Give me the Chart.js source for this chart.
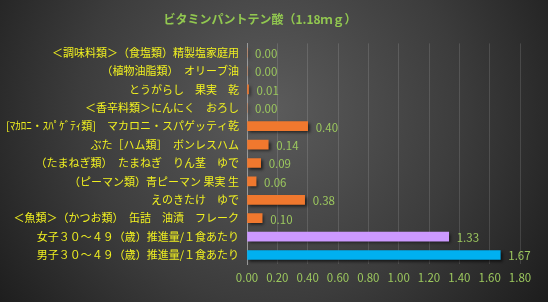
<!DOCTYPE html>
<html>
<head>
<meta charset="utf-8">
<script src="https://cdn.jsdelivr.net/npm/chart.js@4/dist/chart.umd.min.js"></script>
<style>
html,body{margin:0;padding:0;background:#333;}
#wrap{width:548px;height:302px;position:relative;}
</style>
</head>
<body>
<div id="wrap"><canvas id="c" width="548" height="302"></canvas></div>
<script>
const chartTitle = 'ビタミンパントテン酸（1.18ｍｇ）';
const categories = [
  '＜調味料類＞（食塩類）精製塩家庭用',
  '（植物油脂類）　オリーブ油',
  'とうがらし　果実　乾',
  '＜香辛料類＞にんにく　おろし',
  '[ﾏｶﾛﾆ・ｽﾊﾟｹﾞﾃｨ類]　マカロニ・スパゲッティ乾',
  'ぶた［ハム類］　ボンレスハム',
  '（たまねぎ類）　たまねぎ　りん茎　ゆで',
  '（ピーマン類）青ピーマン 果実 生',
  'えのきたけ　ゆで',
  '＜魚類＞（かつお類）　缶詰　油漬　フレーク',
  '女子３０～４９（歳）推進量/１食あたり',
  '男子３０～４９（歳）推進量/１食あたり'
];
const values = [0.00, 0.00, 0.01, 0.00, 0.40, 0.14, 0.09, 0.06, 0.38, 0.10, 1.33, 1.67];
const barColors = ['#F0782E','#F0782E','#F0782E','#F0782E','#F0782E','#F0782E','#F0782E','#F0782E','#F0782E','#F0782E','#CC99FF','#00B0F0'];
const xTicks = [0, 0.2, 0.4, 0.6, 0.8, 1.0, 1.2, 1.4, 1.6, 1.8];

const FONT = "'Noto Sans CJK JP', 'Noto Sans', sans-serif";

const bgPlugin = {
  id: 'bg',
  beforeDraw(chart) {
    const {ctx, width, height} = chart;
    ctx.save();
    const g = ctx.createRadialGradient(270, 110, 10, 270, 110, 340);
    g.addColorStop(0, '#5a5a5a');
    g.addColorStop(0.55, '#3c3c3c');
    g.addColorStop(1, '#1c1c1c');
    ctx.fillStyle = g;
    ctx.fillRect(0, 0, width, height);
    ctx.restore();
  }
};

const shadowPlugin = {
  id: 'shadow',
  beforeDatasetDraw(chart) {
    const ctx = chart.ctx;
    ctx.save();
    ctx.shadowColor = 'rgba(0,0,0,0.6)';
    ctx.shadowBlur = 3;
    ctx.shadowOffsetX = 2;
    ctx.shadowOffsetY = 2;
  },
  afterDatasetDraw(chart) {
    chart.ctx.restore();
  }
};

const labelPlugin = {
  id: 'vlabels',
  afterDatasetsDraw(chart) {
    const ctx = chart.ctx;
    const meta = chart.getDatasetMeta(0);
    ctx.save();
    ctx.font = '11.5px ' + FONT;
    ctx.fillStyle = '#9CC85E';
    ctx.textAlign = 'left';
    ctx.textBaseline = 'middle';
    meta.data.forEach((el, i) => {
      ctx.fillText(values[i].toFixed(2), el.x + 8, el.y + 1);
    });
    ctx.restore();
  }
};

new Chart(document.getElementById('c'), {
  type: 'bar',
  data: {
    labels: categories,
    datasets: [{
      data: values,
      backgroundColor: barColors,
      borderWidth: 0,
      barThickness: 9
    }]
  },
  options: {
    indexAxis: 'y',
    responsive: false,
    animation: false,
    devicePixelRatio: 1,
    layout: { padding: { left: 0, right: 28, top: 8, bottom: 10 } },
    plugins: {
      legend: { display: false },
      tooltip: { enabled: false },
      title: {
        display: true,
        text: chartTitle,
        color: '#92C850',
        font: { family: FONT, size: 12, weight: 'bold' },
        padding: { top: 4, bottom: 17 }
      }
    },
    scales: {
      x: {
        min: 0,
        max: 1.8,
        afterBuildTicks(scale) { scale.ticks = xTicks.map(v => ({ value: v })); },
        ticks: {
          color: '#9CC85E',
          font: { family: FONT, size: 11.5 },
          padding: 7,
          callback: v => Number(v).toFixed(2)
        },
        grid: { color: 'rgba(255,255,255,0.13)', drawTicks: false },
        border: { display: false }
      },
      y: {
        afterFit(scale) { scale.width = 247; },
        ticks: {
          color: '#F0F020',
          font: { family: FONT, size: 11 },
          padding: 8,
          autoSkip: false
        },
        grid: { display: false, drawTicks: false },
        border: { display: true, color: '#9a9a9a', width: 1 }
      }
    }
  },
  plugins: [bgPlugin, shadowPlugin, labelPlugin]
});
</script>
</body>
</html>
